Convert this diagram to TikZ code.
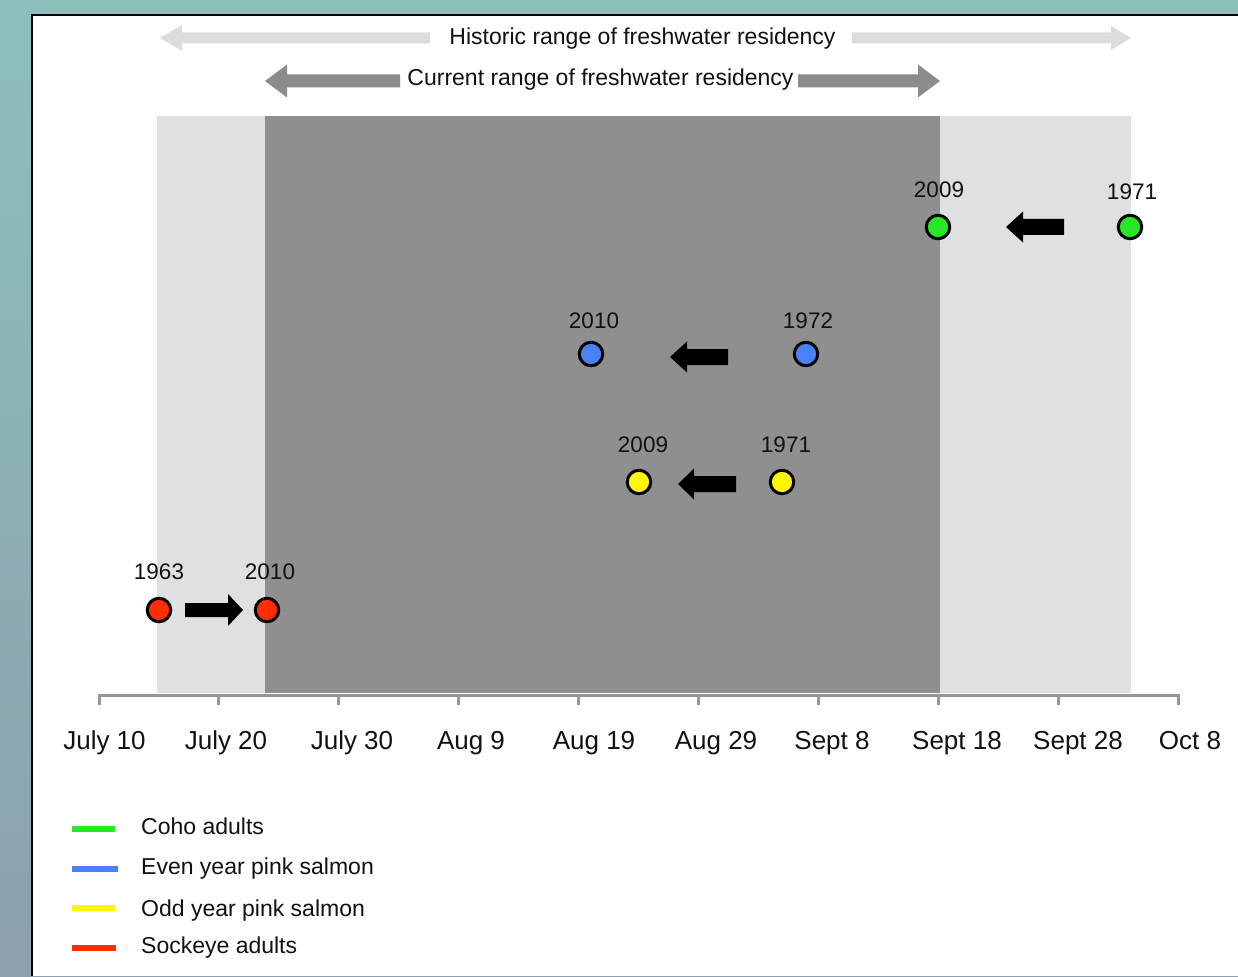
\documentclass[tikz,border=0pt]{standalone}
\usepackage{fontspec}
\setmainfont{Liberation Sans}
\definecolor{bgtop}{RGB}{140,192,188}
\definecolor{bgbot}{RGB}{140,160,172}
\definecolor{bandlt}{RGB}{224,224,224}
\definecolor{banddk}{RGB}{143,143,143}
\definecolor{histgray}{RGB}{220,220,220}
\definecolor{currgray}{RGB}{140,140,140}
\definecolor{axisgray}{RGB}{150,150,150}
\definecolor{cohogreen}{RGB}{38,232,38}
\definecolor{evenblue}{RGB}{72,130,245}
\definecolor{oddyellow}{RGB}{255,246,0}
\definecolor{sockred}{RGB}{255,45,0}
\definecolor{txt}{RGB}{17,17,17}
\tikzset{
  pics/blk/.style n args={4}{code={
    \fill (0,0) -- (#2,#3) -- (#2,#4) -- (#1,#4) -- (#1,-#4) -- (#2,-#4) -- (#2,-#3) -- cycle;}},
  dot/.style={circle, draw=black, line width=3pt, minimum size=23.5pt, inner sep=0pt},
  yr/.style={font=\fontsize{22.5}{26}\selectfont, text=txt, inner sep=0pt, anchor=base},
  ax/.style={font=\fontsize{26}{30}\selectfont, text=txt, inner sep=0pt, anchor=base},
  ttl/.style={font=\fontsize{23}{27}\selectfont, text=txt, inner sep=0pt, anchor=base},
  leg/.style={font=\fontsize{23}{27}\selectfont, text=txt, inner sep=0pt, anchor=base west},
  legline/.style={line width=6pt},
  axline/.style={axisgray, line width=3pt},
}
\begin{document}
\begin{tikzpicture}[x=1pt,y=-1pt]
\useasboundingbox (0,0) rectangle (1238,976);
% background
\shade[top color=bgtop, bottom color=bgbot] (0,0) rectangle (1238,976);
\fill[white] (32,15) rectangle (1238,976);
\draw[line width=2.5pt] (32,976) -- (32,15) -- (1238,15);
% bands
\fill[bandlt] (157,116) rectangle (1131,693);
\fill[banddk] (265,116) rectangle (940,693);
% top range arrows
\node[ttl] (hist) at (642.5,45) {Historic range of freshwater residency};
\node[ttl] (curr) at (600.5,86) {Current range of freshwater residency};
\coordinate (hL) at (160,38);
\coordinate (hR) at (1131,38);
\coordinate (cL) at (265,81);
\coordinate (cR) at (940,81);
\pic[histgray] at (hL) {blk={270}{22}{13}{5.5}};
\pic[histgray, xscale=-1] at (hR) {blk={279}{20}{12}{5.5}};
\pic[currgray] at (cL) {blk={135}{22}{16.5}{6.5}};
\pic[currgray, xscale=-1] at (cR) {blk={142}{22}{16.5}{6.5}};
% axis
\coordinate (a0) at (99,695);
\coordinate (a9) at (1178,695);
\draw[axline] (a0) -- (a9);
\foreach \i in {0,...,9} {
  \draw[axline] ({99+119.889*\i},694) -- ++(0,11);
}
\node[ax] (l1) at (104.5,749) {July 10};
\node[ax] (l2) at (226,749) {July 20};
\node[ax] (l3) at (352,749) {July 30};
\node[ax] (l4) at (471,749) {Aug 9};
\node[ax] (l5) at (594,749) {Aug 19};
\node[ax] (l6) at (716,749) {Aug 29};
\node[ax] (l7) at (832,749) {Sept 8};
\node[ax] (l8) at (957,749) {Sept 18};
\node[ax] (l9) at (1078,749) {Sept 28};
\node[ax] (l10) at (1190,749) {Oct 8};
% coho
\node[dot, fill=cohogreen] (g09) at (938,227) {};
\node[dot, fill=cohogreen] (g71) at (1130,227) {};
\node[yr] (g09l) at (939,198) {2009};
\node[yr] (g71l) at (1132,200) {1971};
\coordinate (gA) at (1006,227);
\pic at (gA) {blk={58}{17}{15.5}{8}};
% even pink
\node[dot, fill=evenblue] (b10) at (591,354) {};
\node[dot, fill=evenblue] (b72) at (806,354) {};
\node[yr] (b10l) at (594,328) {2010};
\node[yr] (b72l) at (808,328) {1972};
\coordinate (bA) at (670,357);
\pic at (bA) {blk={58}{17}{15.5}{8}};
% odd pink
\node[dot, fill=oddyellow] (y09) at (639,482) {};
\node[dot, fill=oddyellow] (y71) at (782,482) {};
\node[yr] (y09l) at (643,452) {2009};
\node[yr] (y71l) at (786,452) {1971};
\coordinate (yA) at (678,484);
\pic at (yA) {blk={58}{16}{15.5}{8}};
% sockeye
\node[dot, fill=sockred] (r63) at (159,610) {};
\node[dot, fill=sockred] (r10) at (267,610) {};
\node[yr] (r63l) at (159,579) {1963};
\node[yr] (r10l) at (270,579) {2010};
\coordinate (rA) at (243,610);
\pic[xscale=-1] at (rA) {blk={58}{15}{16}{7}};
% legend
\coordinate (k1a) at (72,829); \coordinate (k1b) at (115,829);
\coordinate (k2a) at (72,869); \coordinate (k2b) at (118,869);
\coordinate (k3a) at (72,908); \coordinate (k3b) at (115,908);
\coordinate (k4a) at (72,948); \coordinate (k4b) at (116,948);
\draw[legline, cohogreen] (k1a) -- (k1b);
\draw[legline, evenblue] (k2a) -- (k2b);
\draw[legline, oddyellow] (k3a) -- (k3b);
\draw[legline, sockred] (k4a) -- (k4b);
\node[leg] (t1) at (141,834) {Coho adults};
\node[leg] (t2) at (141,874) {Even year pink salmon};
\node[leg] (t3) at (141,916) {Odd year pink salmon};
\node[leg] (t4) at (141,953) {Sockeye adults};
\end{tikzpicture}
\end{document}
